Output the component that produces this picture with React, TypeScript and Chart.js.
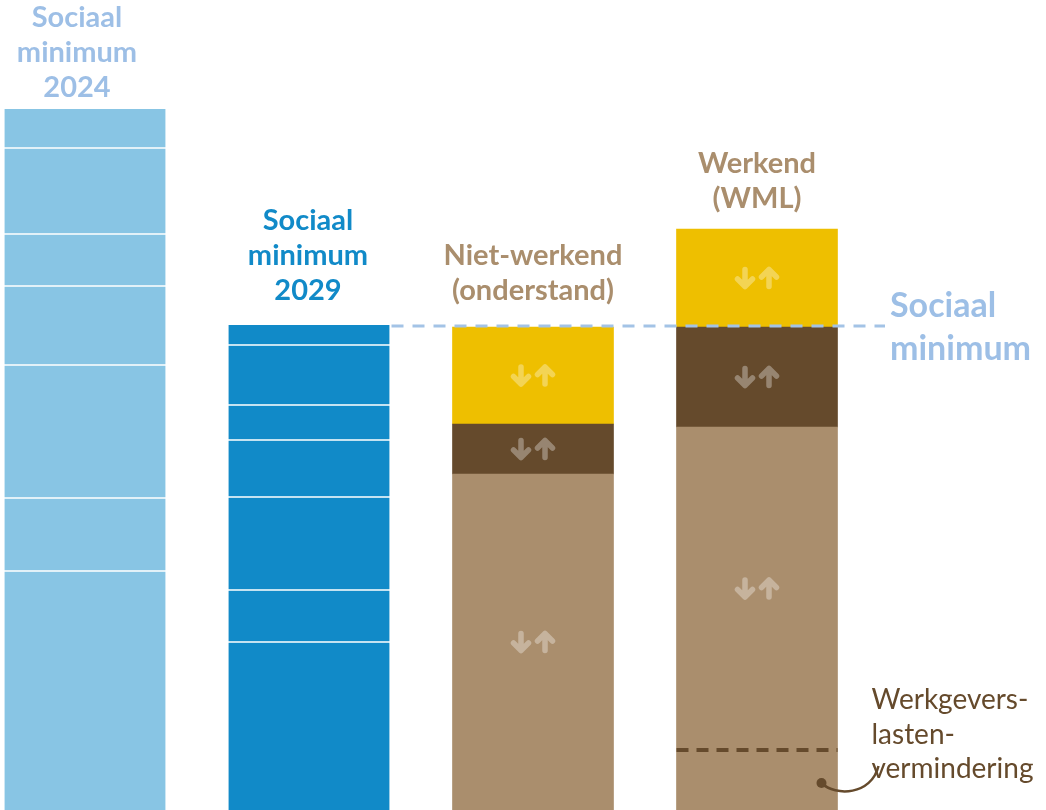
import { useEffect, useRef } from "react";
import { Chart, registerables } from "chart.js";

Chart.register(...registerables);

// ---- data (heights of the stacked segments, bottom to top) ----
const categories = ["Sociaal minimum 2024", "Sociaal minimum 2029", "Niet-werkend (onderstand)", "Werkend (WML)"];
const minimum2024 = [239, 73, 133, 79, 52, 86, 39];
const minimum2029 = [168, 52, 93, 57, 35, 60, 20];
const nietWerkend = [336, 50, 97];
const werkend = [60, 323, 100, 98];
const yMax = 810;

const barLabels = [
  ["Sociaal", "minimum", "2024"],
  ["Sociaal", "minimum", "2029"],
  ["Niet-werkend", "(onderstand)"],
  ["Werkend", "(WML)"],
];
const minimumLabel = ["Sociaal", "minimum"];
const annotationLines = ["Werkgevers-", "lasten-", "vermindering"];

// ---- styles ----
const LIGHT_BLUE = "#88C5E4";
const BLUE = "#118AC8";
const TAN = "#AA8E6D";
const BROWN = "#654A2C";
const YELLOW = "#EEBF00";
const LABEL_LIGHT = "#9DBFE6";
const DASH_BLUE = "#A3C3E6";
const FONT = "Lato, 'Open Sans', sans-serif";

const stacks = [minimum2024, minimum2029, nietWerkend, werkend];
const segmentColors = [
  minimum2024.map(() => LIGHT_BLUE),
  minimum2029.map(() => BLUE),
  [TAN, BROWN, YELLOW],
  [TAN, TAN, BROWN, YELLOW],
];
const labelColors = [LABEL_LIGHT, BLUE, TAN, TAN];
const labelGap = [12, 25, 27, 21];
const labelDx = [-8, -1, 0, 0];
const withSeparators = [true, true, false, false];
const arrowSegments = [[], [], [0, 1, 2], [1, 2, 3]];

function drawArrowPair(ctx: CanvasRenderingContext2D, cx: number, cy: number) {
  ctx.save();
  ctx.strokeStyle = "rgba(255,255,255,0.33)";
  ctx.lineWidth = 5.5;
  ctx.lineCap = "round";
  ctx.lineJoin = "round";
  const h = 8.5;
  const w = 7.5;
  // down arrow
  const dx = cx - 12;
  ctx.beginPath();
  ctx.moveTo(dx, cy - h);
  ctx.lineTo(dx, cy + h);
  ctx.moveTo(dx - w, cy + h - w);
  ctx.lineTo(dx, cy + h);
  ctx.lineTo(dx + w, cy + h - w);
  ctx.stroke();
  // up arrow
  const ux = cx + 12;
  ctx.beginPath();
  ctx.moveTo(ux, cy + h);
  ctx.lineTo(ux, cy - h);
  ctx.moveTo(ux - w, cy - h + w);
  ctx.lineTo(ux, cy - h);
  ctx.lineTo(ux + w, cy - h + w);
  ctx.stroke();
  ctx.restore();
}

const overlayPlugin = {
  id: "overlay",
  afterDatasetsDraw(chart: any) {
    const ctx: CanvasRenderingContext2D = chart.ctx;
    const getEl = (layer: number, bar: number) => chart.getDatasetMeta(layer).data[bar];

    // arrows
    stacks.forEach((s, bar) => {
      arrowSegments[bar].forEach((k) => {
        const el = getEl(k, bar);
        drawArrowPair(ctx, el.x, (el.y + el.base) / 2);
      });
    });

    // labels above bars
    stacks.forEach((s, bar) => {
      const top = getEl(s.length - 1, bar);
      const lines = barLabels[bar];
      ctx.save();
      ctx.font = `bold 29px ${FONT}`;
      ctx.fillStyle = labelColors[bar];
      ctx.textAlign = "center";
      ctx.textBaseline = "alphabetic";
      const lastBase = top.y - labelGap[bar];
      lines.forEach((t, i) => {
        ctx.fillText(t, top.x + labelDx[bar], lastBase - (lines.length - 1 - i) * 35);
      });
      ctx.restore();
    });

    // sociaal minimum dashed line
    const refTop = getEl(minimum2029.length - 1, 1);
    const refY = refTop.y + 1;
    const startX = refTop.x + refTop.width / 2 + 2;
    ctx.save();
    ctx.strokeStyle = DASH_BLUE;
    ctx.lineWidth = 3;
    ctx.setLineDash([12, 9]);
    ctx.beginPath();
    ctx.moveTo(startX, refY);
    ctx.lineTo(885, refY);
    ctx.stroke();
    ctx.restore();

    ctx.save();
    ctx.font = `bold 34px ${FONT}`;
    ctx.fillStyle = LABEL_LIGHT;
    ctx.textAlign = "left";
    ctx.fillText(minimumLabel[0], 890, 317);
    ctx.fillText(minimumLabel[1], 890, 360);
    ctx.restore();

    // werkgeverslastenvermindering dashed line
    const low = getEl(0, 3);
    ctx.save();
    ctx.strokeStyle = BROWN;
    ctx.lineWidth = 4;
    ctx.setLineDash([12, 8]);
    ctx.beginPath();
    ctx.moveTo(low.x - low.width / 2, low.y);
    ctx.lineTo(low.x + low.width / 2, low.y);
    ctx.stroke();
    ctx.restore();

    // annotation
    const right = low.x + low.width / 2;
    ctx.save();
    ctx.fillStyle = BROWN;
    ctx.font = `28px ${FONT}`;
    ctx.textAlign = "left";
    annotationLines.forEach((t, i) => ctx.fillText(t, right + 34, 709 + i * 34.5));
    ctx.strokeStyle = BROWN;
    ctx.lineWidth = 2.5;
    const dotX = right - 16;
    const dotY = (low.y + low.base) / 2 + 3;
    ctx.beginPath();
    ctx.moveTo(dotX, dotY);
    ctx.bezierCurveTo(dotX + 14, dotY + 14, dotX + 50, dotY + 12, dotX + 57, dotY - 17);
    ctx.stroke();
    ctx.beginPath();
    ctx.arc(dotX, dotY, 5, 0, Math.PI * 2);
    ctx.fill();
    ctx.restore();
  },
};

export default function App() {
  const ref = useRef<HTMLCanvasElement | null>(null);

  useEffect(() => {
    document.body.style.margin = "0";
    document.body.style.overflow = "hidden";
    const canvas = ref.current;
    if (!canvas) return;
    const nLayers = Math.max(...stacks.map((s) => s.length));
    const datasets = Array.from({ length: nLayers }, (_, k) => ({
      label: `segment ${k + 1}`,
      data: stacks.map((s) => (k < s.length ? s[k] : null)),
      backgroundColor: segmentColors.map((c) => c[k] ?? "transparent"),
      borderColor: "#FFFFFF",
      borderSkipped: false as const,
      borderWidth: (c: any) => {
        const i = c.dataIndex;
        if (!withSeparators[i]) return 0;
        const n = stacks[i].length;
        return { top: k < n - 1 ? 1 : 0, bottom: k > 0 ? 1 : 0, left: 0, right: 0 };
      },
      barThickness: 161,
      clip: false as const,
    }));

    const chart = new Chart(canvas, {
      type: "bar",
      data: { labels: categories, datasets },
      options: {
        animation: false,
        responsive: false,
        devicePixelRatio: 1,
        layout: { padding: { left: 85, right: 289, top: 0, bottom: 0 } },
        plugins: { legend: { display: false }, tooltip: { enabled: false } },
        scales: {
          x: { stacked: true, display: false, offset: false, grid: { display: false } },
          y: { stacked: true, display: false, min: 0, max: yMax, grid: { display: false } },
        },
      },
      plugins: [overlayPlugin],
    });
    return () => chart.destroy();
  }, []);

  return <canvas ref={ref} width={1046} height={810} style={{ display: "block" }} />;
}
